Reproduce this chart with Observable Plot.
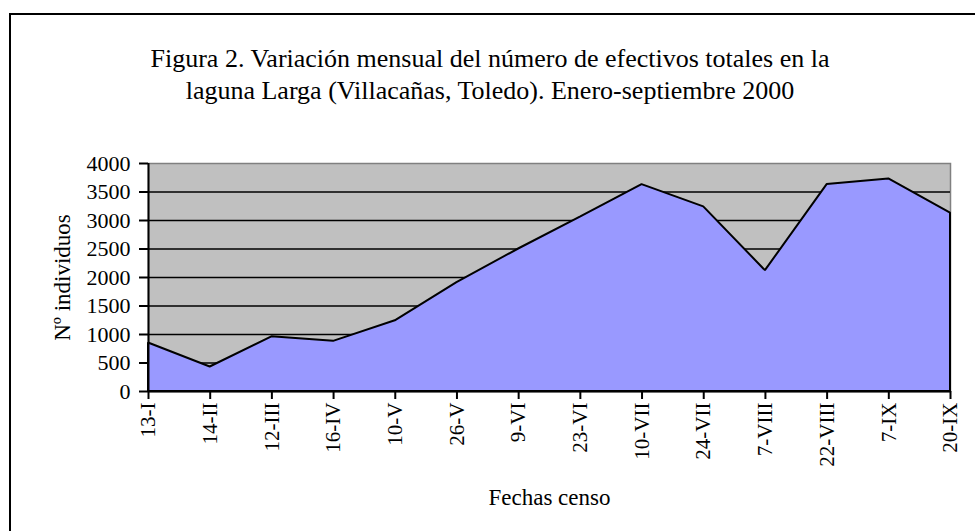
<!DOCTYPE html>
<html>
<head>
<meta charset="utf-8">
<script src="https://cdn.jsdelivr.net/npm/d3@7"></script>
<script src="https://cdn.jsdelivr.net/npm/@observablehq/plot@0.6"></script>
<style>
  html, body { margin: 0; padding: 0; background: #fff; }
  #wrap { position: relative; width: 975px; height: 531px; overflow: hidden; font-family: 'Liberation Serif', serif; }
  #border { position: absolute; left: 9px; top: 13px; width: 1000px; height: 600px; border: 2.5px solid #000; box-sizing: border-box; }
  #title { position: absolute; left: 0; width: 980px; top: 43px; text-align: center; font-family: 'Liberation Serif', serif; font-size: 26px; line-height: 32px; color: #000; }
  #chart { position: absolute; left: 0; top: 0; }
</style>
</head>
<body>
<div id="wrap">
  <div id="border"></div>
  <div id="chart"></div>
  <div id="title">Figura 2. Variación mensual del número de efectivos totales en la<br>laguna Larga (Villacañas, Toledo). Enero-septiembre 2000</div>
</div>
<script>
const fechas = ["13-I","14-II","12-III","16-IV","10-V","26-V","9-VI","23-VI","10-VII","24-VII","7-VIII","22-VIII","7-IX","20-IX"];
const individuos = [850, 430, 960, 880, 1240, 1910, 2500, 3060, 3630, 3240, 2120, 3630, 3730, 3130];
const yTicks = [0, 500, 1000, 1500, 2000, 2500, 3000, 3500, 4000];
const gridValues = [500, 1000, 1500, 2000, 2500, 3000, 3500];

const data = fechas.map((f, i) => ({fecha: f, n: individuos[i]}));

const chart = Plot.plot({
  width: 975,
  height: 531,
  marginLeft: 148,
  marginRight: 25,
  marginTop: 163,
  marginBottom: 140,
  style: {fontFamily: "'Liberation Serif', serif", background: "transparent", color: "#000"},
  x: {type: "point", domain: fechas, padding: 0, round: false},
  y: {domain: [0, 4000]},
  marks: [
    Plot.frame({fill: "#c0c0c0", stroke: "#808080", strokeWidth: 1.5}),
    Plot.ruleY(gridValues, {stroke: "#000", strokeWidth: 1.5}),
    Plot.areaY(data, {x: "fecha", y: "n", fill: "#9999ff", stroke: "#000", strokeWidth: 2, strokeLinejoin: "miter"}),
    Plot.ruleY([0], {stroke: "#000", strokeWidth: 2}),
    Plot.ruleX([fechas[0]], {stroke: "#000", strokeWidth: 2}),
    Plot.axisY({ticks: yTicks, tickSize: 9, tickPadding: 9, fontSize: 22, strokeWidth: 2, label: null, tickFormat: d => String(d)}),
    Plot.axisX({tickSize: 8, tickPadding: 3, tickRotate: -90, fontSize: 21, strokeWidth: 2, label: null}),
    Plot.text(["Nº individuos"], {frameAnchor: "left", dx: -86, rotate: -90, textAnchor: "middle", lineAnchor: "middle", fontSize: 23}),
    Plot.text(["Fechas censo"], {frameAnchor: "bottom", dy: 113, dx: 0, fontSize: 23})
  ]
});
document.getElementById("chart").appendChild(chart);
</script>
</body>
</html>
